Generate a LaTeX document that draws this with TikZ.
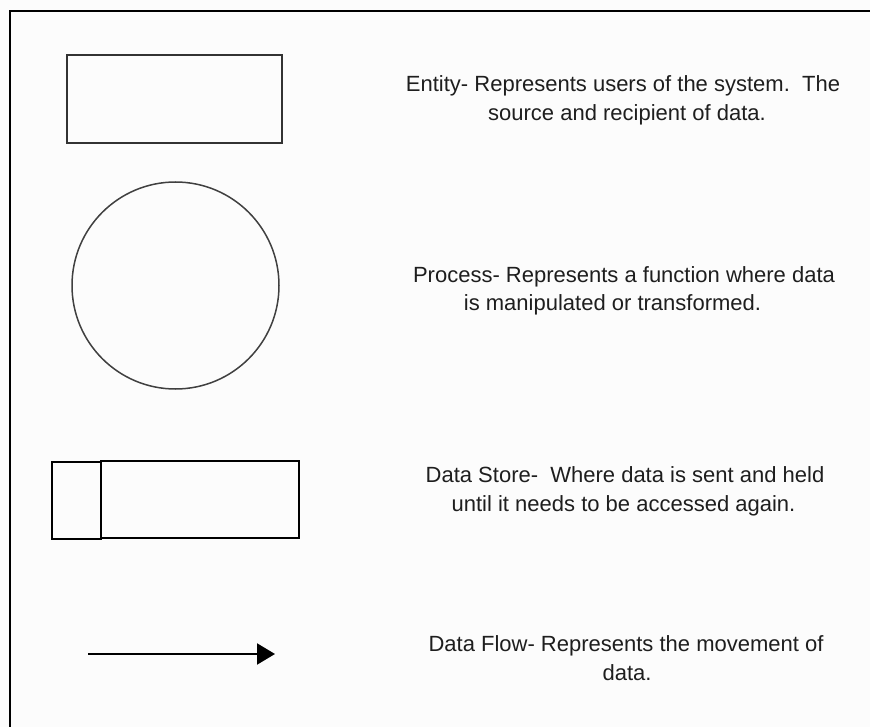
\documentclass[tikz,border=0pt]{standalone}
\usepackage{fontspec}
\setmainfont{Liberation Sans}
\usetikzlibrary{arrows.meta}
\definecolor{bg}{HTML}{FCFCFC}
\definecolor{txt}{HTML}{1E1E1E}
\begin{document}
\begin{tikzpicture}[x=1pt,y=-1pt,
  desc/.style={anchor=base, inner sep=0pt, text=txt, font=\fontsize{22}{27}\selectfont},
  shapebox/.style={draw, inner sep=0pt, outer sep=0pt},
]
\useasboundingbox (0,0) rectangle (870,727);
\fill[bg] (0,0) rectangle (870,727);
% frame
\coordinate (fbl) at (10,727);
\coordinate (ftl) at (10,11);
\coordinate (ftr) at (870,11);
\draw[line width=2.2pt, black] (fbl) -- (ftl) -- (ftr);

% Entity
\node[shapebox, draw=black!80, line width=2pt, minimum width=215.5pt, minimum height=88pt] (entity) at (174.25,99) {};
\node[desc] (e1) at (623,92) {Entity- Represents users of the system.\ \ The};
\node[desc] (e2) at (627,121) {source and recipient of data.};

% Process
\node[shapebox, circle, draw=black!75, line width=1.5pt, minimum size=207pt] (proc) at (175.5,285.5) {};
\node[desc] (p1) at (624,283) {Process- Represents a function where data};
\node[desc] (p2) at (612.5,311) {is manipulated or transformed.};

% Data store
\node[shapebox, line width=2.6pt, minimum width=49pt, minimum height=77pt] (dsl) at (76.5,500.5) {};
\node[shapebox, line width=2.6pt, minimum width=198pt, minimum height=77pt] (dsr) at (200,499.5) {};
\node[desc] (d1) at (625,482) {Data Store-\ \ Where data is sent and held};
\node[desc] (d2) at (623.5,511) {until it needs to be accessed again.};

% Data flow
\coordinate (fa) at (88,654);
\coordinate (fb) at (275,654);
\draw[line width=2pt, -{Triangle[length=18pt,width=21pt]}] (fa) -- (fb);
\node[desc] (f1) at (626,651) {Data Flow- Represents the movement of};
\node[desc] (f2) at (627,680) {data.};
\end{tikzpicture}
\end{document}
